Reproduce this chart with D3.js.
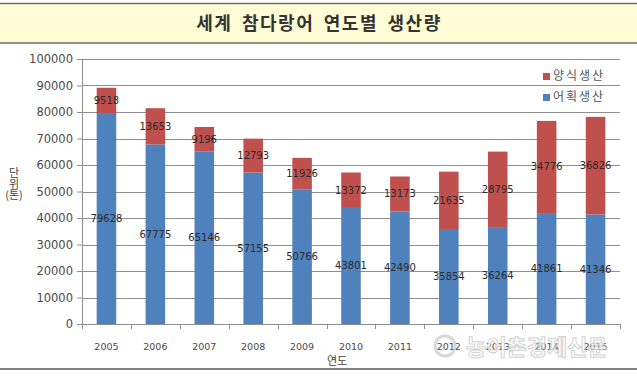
<!DOCTYPE html>
<html>
<head>
<meta charset="utf-8">
<script src="https://cdn.jsdelivr.net/npm/d3@7"></script>
<style>
  body { margin: 0; background: #fff; }
  svg { display: block; }
</style>
</head>
<body>
<div id="chart"></div>
<script>
// chart data
var years = ["2005", "2006", "2007", "2008", "2009", "2010", "2011", "2012", "2013", "2014", "2015"];
var catchValues = [79628, 67775, 65146, 57155, 50766, 43801, 42490, 35854, 36264, 41861, 41346]; // 어획생산
var farmValues = [9518, 13653, 9196, 12793, 11926, 13372, 13173, 21635, 28795, 34776, 36826];   // 양식생산
var yTicks = [0, 10000, 20000, 30000, 40000, 50000, 60000, 70000, 80000, 90000, 100000];

var W = 637, H = 377;
var margin = { top: 59, right: 17, bottom: 53, left: 82 },
    width = W - margin.left - margin.right,
    height = H - margin.top - margin.bottom;

var blue = "#4f81bd", red = "#c0504d";

var svg = d3.select("#chart").append("svg")
    .attr("width", W)
    .attr("height", H);

// title band
svg.append("rect").attr("x", 0).attr("y", 3).attr("width", W).attr("height", 40)
    .attr("fill", "#fefcd4");
svg.append("line").attr("x1", 0).attr("x2", W).attr("y1", 3.5).attr("y2", 3.5)
    .attr("stroke", "#6e6e6e").attr("stroke-width", 1.5);
svg.append("line").attr("x1", 0).attr("x2", W).attr("y1", 43).attr("y2", 43)
    .attr("stroke", "#6e6e6e").attr("stroke-width", 1.5);
svg.append("text")
    .attr("x", 319).attr("y", 30)
    .attr("text-anchor", "middle")
    .style("font-family", "'Noto Sans CJK KR', sans-serif")
    .style("font-size", "18px")
    .style("font-weight", "bold")
    .style("letter-spacing", "1.5px")
    .style("word-spacing", "4px")
    .style("fill", "#333")
    .text("세계 참다랑어 연도별 생산량");

// bottom rule
svg.append("line").attr("x1", 0).attr("x2", W).attr("y1", 369).attr("y2", 369)
    .attr("stroke", "#555").attr("stroke-width", 1.5);

var g = svg.append("g")
    .attr("transform", "translate(" + margin.left + "," + margin.top + ")");

// scales
var x = d3.scaleBand().domain(years).range([0, width]).paddingInner(0.6).paddingOuter(0.3);
var y = d3.scaleLinear().domain([0, 100000]).range([height, 0]);

// gridlines
g.selectAll(".grid")
    .data(yTicks.slice(1))
    .enter().append("line")
    .attr("x1", 0).attr("x2", width)
    .attr("y1", d => Math.round(y(d)) + 0.5).attr("y2", d => Math.round(y(d)) + 0.5)
    .attr("stroke", "#8e8e8e");

// y axis
var yAxis = g.append("g")
    .call(d3.axisLeft(y).tickValues(yTicks).tickSize(5).tickPadding(4).tickFormat(d3.format("d")));
yAxis.selectAll("text")
    .style("font-family", "'DejaVu Sans', sans-serif")
    .style("font-size", "11.5px")
    .style("fill", "#4a4a4a");
yAxis.selectAll("line, path").attr("stroke", "#8e8e8e");

// stacked bars
var stackData = years.map((yr, i) => ({ year: yr, catch: catchValues[i], farm: farmValues[i] }));

g.selectAll(".bar-catch")
    .data(stackData)
    .enter().append("rect")
    .attr("x", d => x(d.year))
    .attr("width", x.bandwidth())
    .attr("y", d => y(d.catch))
    .attr("height", d => height - y(d.catch))
    .attr("fill", blue);

g.selectAll(".bar-farm")
    .data(stackData)
    .enter().append("rect")
    .attr("x", d => x(d.year))
    .attr("width", x.bandwidth())
    .attr("y", d => y(d.catch + d.farm))
    .attr("height", d => y(d.catch) - y(d.catch + d.farm))
    .attr("fill", red);

// x axis (ticks between categories)
var xAxisG = g.append("g").attr("transform", "translate(0," + height + ")");
xAxisG.append("line").attr("x1", 0).attr("x2", width).attr("y1", 0.5).attr("y2", 0.5)
    .attr("stroke", "#8e8e8e");
xAxisG.selectAll(".xtick")
    .data(d3.range(years.length + 1))
    .enter().append("line")
    .attr("x1", i => Math.round(i * width / years.length) + 0.5)
    .attr("x2", i => Math.round(i * width / years.length) + 0.5)
    .attr("y1", 0).attr("y2", 5)
    .attr("stroke", "#8e8e8e");
xAxisG.selectAll(".xlabel")
    .data(years)
    .enter().append("text")
    .attr("x", d => x(d) + x.bandwidth() / 2)
    .attr("y", 26)
    .attr("text-anchor", "middle")
    .style("font-family", "'DejaVu Sans', sans-serif")
    .style("font-size", "9.5px")
    .style("fill", "#4a4a4a")
    .text(d => d);

// value labels
var labelStyle = function (sel) {
    sel.attr("text-anchor", "middle")
        .attr("dy", "0.35em")
        .style("font-family", "'DejaVu Sans', sans-serif")
        .style("font-size", "10px")
        .style("fill", "#2a2a2a");
};
g.selectAll(".lab-catch")
    .data(stackData)
    .enter().append("text")
    .attr("x", d => x(d.year) + x.bandwidth() / 2)
    .attr("y", d => y(d.catch / 2))
    .text(d => d.catch)
    .call(labelStyle);
g.selectAll(".lab-farm")
    .data(stackData)
    .enter().append("text")
    .attr("x", d => x(d.year) + x.bandwidth() / 2)
    .attr("y", d => y(d.catch + d.farm / 2))
    .text(d => d.farm)
    .call(labelStyle);

// axis titles
svg.append("text")
    .attr("x", 337).attr("y", 365)
    .attr("text-anchor", "middle")
    .style("font-family", "'Noto Sans CJK KR', sans-serif")
    .style("font-size", "11px")
    .style("fill", "#444")
    .text("연도");

svg.selectAll(".ytitle")
    .data(["단", "위", "(톤)"])
    .enter().append("text")
    .attr("x", 14)
    .attr("y", (d, i) => 177 + i * 11)
    .attr("text-anchor", "middle")
    .style("font-family", "'Noto Sans CJK KR', sans-serif")
    .style("font-size", "11px")
    .style("fill", "#444")
    .text(d => d);

// legend
var legendColors = { "양식생산": red, "어획생산": blue };
var legend = svg.selectAll(".legend")
    .data(["양식생산", "어획생산"])
    .enter().append("g")
    .attr("transform", (d, i) => "translate(543," + (73 + i * 21) + ")");
legend.append("rect").attr("width", 7).attr("height", 7).attr("fill", d => legendColors[d]);
legend.append("text")
    .attr("x", 10).attr("y", 7)
    .style("font-family", "'Noto Sans CJK KR', sans-serif")
    .style("font-size", "12px")
    .style("letter-spacing", "2px")
    .style("fill", "#555")
    .text(d => d);

// watermark
var wm = svg.append("g").attr("opacity", 0.7);
wm.append("circle").attr("cx", 445).attr("cy", 346).attr("r", 10)
    .attr("fill", "none").attr("stroke", "#c8c8c8").attr("stroke-width", 3);
wm.append("text")
    .attr("x", 466).attr("y", 355)
    .style("font-family", "'Noto Sans CJK KR', sans-serif")
    .style("font-size", "22px")
    .style("font-weight", "bold")
    .style("fill", "#fff")
    .style("stroke", "#c0c0c0")
    .style("stroke-width", 1)
    .text("농어촌경제신문");
</script>
</body>
</html>
